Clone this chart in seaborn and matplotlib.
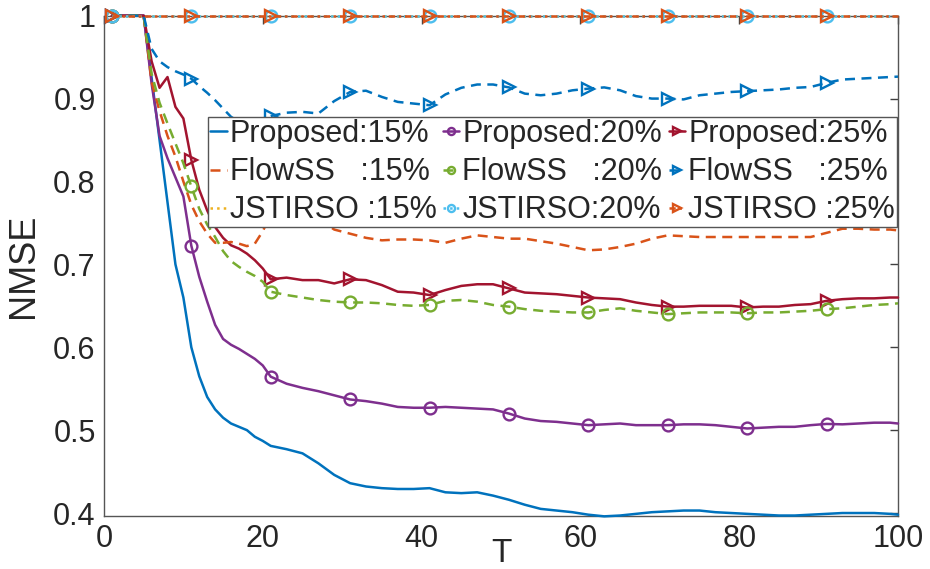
import matplotlib
matplotlib.use("Agg")
import matplotlib.pyplot as plt
import seaborn as sns

# ---------------- data ----------------
T = list(range(1, 21)) + list(range(21, 100, 2)) + [100]

proposed_15 = [1, 1, 1, 1, 1, 0.925, 0.85, 0.775, 0.70, 0.66,
               0.60, 0.565, 0.54, 0.525, 0.515, 0.508, 0.504, 0.500, 0.492, 0.487,
               0.481, 0.477, 0.472, 0.460, 0.446, 0.436, 0.432, 0.430, 0.429, 0.429,
               0.430, 0.425, 0.424, 0.425, 0.421, 0.416, 0.410, 0.405, 0.403, 0.401,
               0.398, 0.396, 0.397, 0.399, 0.401, 0.402, 0.403, 0.403, 0.401, 0.400,
               0.399, 0.398, 0.397, 0.397, 0.398, 0.399, 0.400, 0.400, 0.400, 0.399,
               0.398]
proposed_20 = [1, 1, 1, 1, 1, 0.918, 0.855, 0.828, 0.805, 0.782,
               0.7225, 0.685, 0.655, 0.627, 0.61, 0.603, 0.598, 0.592, 0.586, 0.578,
               0.5645, 0.556, 0.551, 0.547, 0.542, 0.537, 0.535, 0.532, 0.528, 0.527,
               0.527, 0.528, 0.527, 0.526, 0.525, 0.520, 0.514, 0.511, 0.510, 0.508,
               0.506, 0.507, 0.508, 0.506, 0.506, 0.506, 0.507, 0.507, 0.506, 0.504,
               0.502, 0.503, 0.504, 0.504, 0.506, 0.5075, 0.507, 0.508, 0.509, 0.509,
               0.508]
proposed_25 = [1, 1, 1, 1, 1, 0.945, 0.913, 0.926, 0.89, 0.876,
               0.826, 0.79, 0.765, 0.745, 0.732, 0.723, 0.719, 0.713, 0.705, 0.695,
               0.682, 0.684, 0.681, 0.681, 0.677, 0.682, 0.681, 0.675, 0.667, 0.666,
               0.663, 0.669, 0.674, 0.676, 0.676, 0.671, 0.666, 0.665, 0.664, 0.662,
               0.660, 0.659, 0.658, 0.654, 0.651, 0.649, 0.649, 0.650, 0.650, 0.650,
               0.648, 0.649, 0.649, 0.651, 0.652, 0.656, 0.658, 0.659, 0.659, 0.660,
               0.660]
flowss_15 = [1, 1, 1, 1, 1, 0.92, 0.885, 0.855, 0.83, 0.80,
             0.772, 0.752, 0.737, 0.726, 0.726, 0.727, 0.725, 0.722, 0.725, 0.74,
             0.76, 0.765, 0.762, 0.755, 0.742, 0.737, 0.732, 0.729, 0.730, 0.730,
             0.729, 0.726, 0.731, 0.735, 0.733, 0.731, 0.731, 0.728, 0.725, 0.721,
             0.717, 0.718, 0.721, 0.725, 0.731, 0.735, 0.734, 0.733, 0.733, 0.733,
             0.733, 0.733, 0.733, 0.733, 0.733, 0.738, 0.743, 0.743, 0.742, 0.742,
             0.741]
flowss_20 = [1, 1, 1, 1, 1, 0.93, 0.895, 0.87, 0.846, 0.822,
             0.794, 0.767, 0.748, 0.733, 0.716, 0.704, 0.697, 0.691, 0.686, 0.679,
             0.667, 0.663, 0.66, 0.657, 0.655, 0.654, 0.654, 0.653, 0.651, 0.650,
             0.651, 0.656, 0.657, 0.655, 0.651, 0.649, 0.646, 0.644, 0.643, 0.642,
             0.642, 0.645, 0.647, 0.644, 0.642, 0.640, 0.641, 0.642, 0.642, 0.642,
             0.641, 0.642, 0.642, 0.643, 0.644, 0.646, 0.647, 0.649, 0.651, 0.652,
             0.653]
flowss_25 = [1, 1, 1, 1, 1, 0.96, 0.945, 0.938, 0.933, 0.929,
             0.924, 0.915, 0.907, 0.898, 0.888, 0.878, 0.872, 0.870, 0.872, 0.876,
             0.879, 0.883, 0.884, 0.882, 0.897, 0.908, 0.9095, 0.902, 0.896, 0.894,
             0.892, 0.905, 0.913, 0.917, 0.917, 0.9135, 0.906, 0.904, 0.906, 0.910,
             0.912, 0.9135, 0.910, 0.903, 0.900, 0.900, 0.899, 0.904, 0.906, 0.908,
             0.909, 0.910, 0.911, 0.913, 0.914, 0.919, 0.923, 0.924, 0.925, 0.926,
             0.9265]
jstirso_15 = [1, 1, 1, 1, 1, 1, 1, 1, 1, 1,
              1, 1, 1, 1, 1, 1, 1, 1, 1, 1,
              1, 1, 1, 1, 1, 1, 1, 1, 1, 1,
              1, 1, 1, 1, 1, 1, 1, 1, 1, 1,
              1, 1, 1, 1, 1, 1, 1, 1, 1, 1,
              1, 1, 1, 1, 1, 1, 1, 1, 1, 1,
              1]
jstirso_20 = [1, 1, 1, 1, 1, 1, 1, 1, 1, 1,
              1, 1, 1, 1, 1, 1, 1, 1, 1, 1,
              1, 1, 1, 1, 1, 1, 1, 1, 1, 1,
              1, 1, 1, 1, 1, 1, 1, 1, 1, 1,
              1, 1, 1, 1, 1, 1, 1, 1, 1, 1,
              1, 1, 1, 1, 1, 1, 1, 1, 1, 1,
              1]
jstirso_25 = [1, 1, 1, 1, 1, 1, 1, 1, 1, 1,
              1, 1, 1, 1, 1, 1, 1, 1, 1, 1,
              1, 1, 1, 1, 1, 1, 1, 1, 1, 1,
              1, 1, 1, 1, 1, 1, 1, 1, 1, 1,
              1, 1, 1, 1, 1, 1, 1, 1, 1, 1,
              1, 1, 1, 1, 1, 1, 1, 1, 1, 1,
              1]

labels = ["Proposed:15%", "Proposed:20%", "Proposed:25%",
          "FlowSS   :15%", "FlowSS   :20%", "FlowSS   :25%",
          "JSTIRSO :15%", "JSTIRSO:20%", "JSTIRSO :25%"]
marker_T = [1, 11, 21, 31, 41, 51, 61, 71, 81, 91]
x_ticks = [0, 20, 40, 60, 80, 100]
y_ticks = [0.4, 0.5, 0.6, 0.7, 0.8, 0.9, 1.0]
y_ticklabels = ["0.4", "0.5", "0.6", "0.7", "0.8", "0.9", "1"]

# ---------------- styling ----------------
sns.set_style("white")
plt.rcParams["font.family"] = ["Liberation Sans", "DejaVu Sans"]

C_BLUE, C_ORANGE, C_YELLOW = "#0072BD", "#D95319", "#EDB120"
C_PURPLE, C_GREEN, C_LBLUE, C_RED = "#7E2F8E", "#77AC30", "#4DBEEE", "#A2142F"
DASH = (0, (4, 2.6))

styles = [
    (proposed_15, C_BLUE, "-", None),
    (proposed_20, C_PURPLE, "-", "o"),
    (proposed_25, C_RED, "-", ">"),
    (flowss_15, C_ORANGE, DASH, None),
    (flowss_20, C_GREEN, DASH, "o"),
    (flowss_25, C_BLUE, DASH, ">"),
    (jstirso_15, C_YELLOW, ":", None),
    (jstirso_20, C_LBLUE, ":", "o"),
    (jstirso_25, C_ORANGE, (0, (2.5, 1.5, 1, 1.5)), ">"),
]

mark_idx = [T.index(t) for t in marker_T]

fig = plt.figure(figsize=(9.3, 5.69), dpi=100)
ax = fig.add_axes([0.1118, 0.094, 0.8538, 0.8784])

handles = {}
for lab, (vals, col, ls, mk) in zip(labels, styles):
    kw = dict(color=col, linestyle=ls, linewidth=1.8)
    if mk is not None:
        kw.update(marker=mk, markevery=mark_idx, markersize=8.5,
                  markerfacecolor="none", markeredgecolor=col,
                  markeredgewidth=1.7)
    sns.lineplot(x=T, y=vals, ax=ax, legend=False, sort=False,
                 estimator=None, label=lab, **kw)
    line = ax.lines[-1]
    line.set_clip_on(False)
    line.set_zorder(3)
    handles[lab] = line

ax.set_xlim(0, 100)
ax.set_ylim(0.397, 1.0)
ax.set_xticks(x_ticks)
ax.set_yticks(y_ticks)
ax.set_yticklabels(y_ticklabels)
ax.tick_params(direction="in", length=6, width=1.0, top=True, right=True,
               labelsize=22, color="#404040", labelcolor="#262626", pad=6)
for sp in ax.spines.values():
    sp.set_color("#555555")
    sp.set_linewidth(1.0)

ax.set_xlabel("T", fontsize=24, color="#262626")
ax.xaxis.set_label_coords(0.5, -0.045)
ax.set_ylabel("NMSE", fontsize=26, color="#262626")
ax.yaxis.set_label_coords(-0.079, 0.5)

# legend (row-major order in the picture -> column-major for matplotlib)
order = ["Proposed:15%", "FlowSS   :15%", "JSTIRSO :15%",
         "Proposed:20%", "FlowSS   :20%", "JSTIRSO:20%",
         "Proposed:25%", "FlowSS   :25%", "JSTIRSO :25%"]
leg = ax.legend([handles[k] for k in order], order, ncol=3,
                loc="upper right", bbox_to_anchor=(0.9987, 0.797),
                frameon=True, fancybox=False, framealpha=1,
                edgecolor="#555555", fontsize=22, handlelength=0.55,
                handletextpad=0.1, columnspacing=0.2, labelspacing=0.27,
                borderpad=0.06, borderaxespad=0, markerscale=0.6)
leg.get_frame().set_linewidth(1.0)
leg.set_zorder(5)

fig.savefig("out.png", dpi=100)
